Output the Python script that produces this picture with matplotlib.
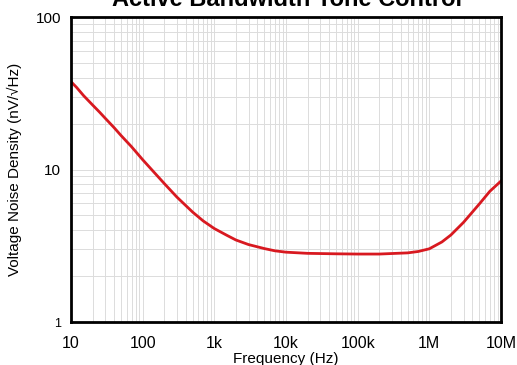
import matplotlib
matplotlib.use("Agg")
import matplotlib.pyplot as plt
from matplotlib.ticker import FixedLocator, FixedFormatter, LogLocator, NullFormatter

plt.rcParams["font.family"] = ["Liberation Sans", "DejaVu Sans"]

# noise curve
freq = [10, 12, 15, 20, 25, 30, 40, 50, 70, 100, 150, 200, 300, 400, 500, 700,
        1e3, 1.5e3, 2e3, 3e3, 5e3, 7e3, 1e4, 2e4, 5e4, 1e5, 2e5,
        5e5, 7e5, 1e6, 1.5e6, 2e6, 3e6, 5e6, 7e6, 1e7]
noise = [37.7, 34.5, 30.5, 26.5, 23.8, 21.7, 18.8, 16.7, 14.1, 11.6, 9.4, 8.1,
         6.6, 5.8, 5.25, 4.6, 4.1, 3.7, 3.45, 3.22, 3.03, 2.93, 2.87, 2.82, 2.8,
         2.79, 2.79, 2.84, 2.9, 3.02, 3.35, 3.72, 4.5, 5.95, 7.2, 8.4]

xticks = [10, 100, 1e3, 1e4, 1e5, 1e6, 1e7]
xlabels = ["10", "100", "1k", "10k", "100k", "1M", "10M"]
yticks = [1, 10, 100]
ylabels = ["1", "10", "100"]

fig = plt.figure(figsize=(5.17, 3.65), dpi=100)
ax = fig.add_axes([0.1373, 0.1178, 0.8317, 0.8356])

ax.plot(freq, noise, color="#d81920", lw=2, solid_joinstyle="round")
ax.set_xscale("log")
ax.set_yscale("log")
ax.set_xlim(10, 1e7)
ax.set_ylim(1, 100)

ax.xaxis.set_major_locator(FixedLocator(xticks))
ax.xaxis.set_major_formatter(FixedFormatter(xlabels))
ax.yaxis.set_major_locator(FixedLocator(yticks))
ax.yaxis.set_major_formatter(FixedFormatter(ylabels))
ax.xaxis.set_minor_locator(LogLocator(base=10, subs=range(2, 10), numticks=20))
ax.yaxis.set_minor_locator(LogLocator(base=10, subs=range(2, 10), numticks=20))
ax.xaxis.set_minor_formatter(NullFormatter())
ax.yaxis.set_minor_formatter(NullFormatter())

ax.grid(True, which="both", color="#dcdcdc", lw=0.7)
ax.tick_params(axis="x", which="both", length=0, labelsize=11.5, pad=10)
ax.tick_params(axis="y", which="both", length=0, labelsize=11, pad=7)
ax.get_yticklabels()[0].set_fontsize(9)
for s in ax.spines.values():
    s.set_linewidth(2)
    s.set_color("black")

ax.set_xlabel("Frequency (Hz)", fontsize=11, labelpad=1)
ax.set_ylabel("Voltage Noise Density (nV/\u221aHz)", fontsize=11, labelpad=10)

fig.text(0.555, 1 - 6 / 365, "Active Bandwidth Tone Control", ha="center",
         va="baseline", fontsize=17, fontweight="bold")

fig.savefig("out.png", dpi=100)
